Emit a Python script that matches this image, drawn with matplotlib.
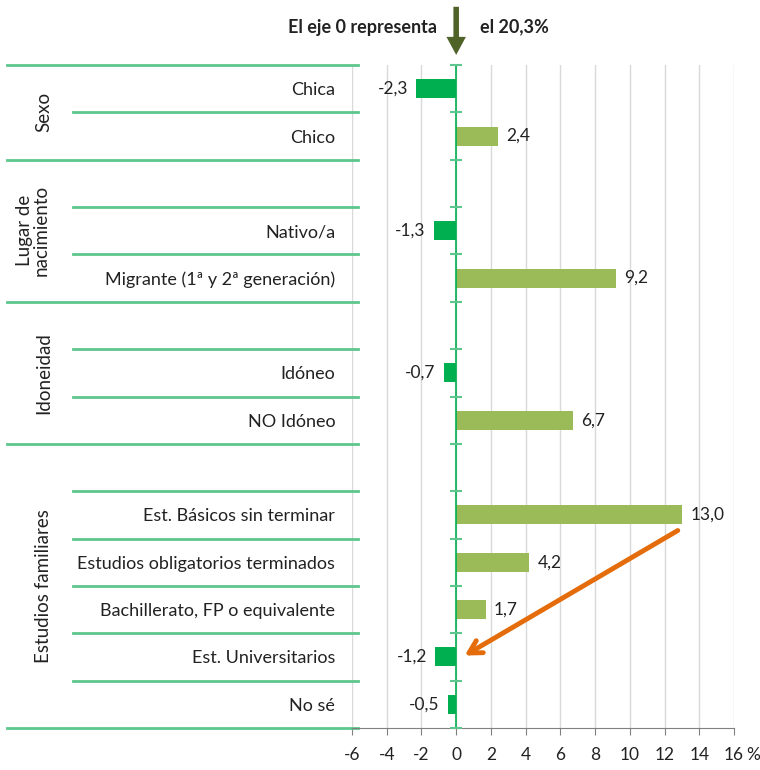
import matplotlib.pyplot as plt
import matplotlib.transforms as mtransforms

# data
groups = ["Sexo", "Lugar de\nnacimiento", "Idoneidad", "Estudios familiares"]
group_cats = [
    ["Chica", "Chico"],
    ["", "Nativo/a", "Migrante (1ª y 2ª generación)"],
    ["", "Idóneo", "NO Idóneo"],
    ["", "Est. Básicos sin terminar", "Estudios obligatorios terminados",
     "Bachillerato, FP o equivalente", "Est. Universitarios", "No sé"],
]
group_vals = [
    [-2.3, 2.4],
    [None, -1.3, 9.2],
    [None, -0.7, 6.7],
    [None, 13.0, 4.2, 1.7, -1.2, -0.5],
]
xticks = [-6, -4, -2, 0, 2, 4, 6, 8, 10, 12, 14, 16]

plt.rcParams['font.family'] = ['Lato', 'DejaVu Sans']

cats = [c for g in group_cats for c in g]
vals = [v for g in group_vals for v in g]
n = len(cats)

fig = plt.figure(figsize=(7.6, 7.7), dpi=100)
ax = fig.add_axes([352 / 760, 1 - 728 / 770, 382 / 760, 663 / 770])

line_green = '#5cc68c'
neg_col = '#00b050'
pos_col = '#9bbb59'
txt = '#222222'

ypos = list(range(n))
for y, v in zip(ypos, vals):
    if v is None:
        continue
    ax.barh(y, v, height=0.4, color=neg_col if v < 0 else pos_col, zorder=3)
    lab = f"{v:.1f}".replace('.', ',')
    if v < 0:
        ax.annotate(lab, (v, y), xytext=(-6, 0), textcoords='offset points',
                    ha='right', va='center', fontsize=12.5, color=txt)
    else:
        ax.annotate(lab, (v, y), xytext=(6, 0), textcoords='offset points',
                    ha='left', va='center', fontsize=12.5, color=txt)

ax.set_xlim(-6, 16)
ax.set_ylim(n - 0.5, -0.5)
ax.set_xticks(xticks)
ax.set_xticklabels([str(t) for t in xticks], fontsize=12.5, color=txt)
ax.grid(axis='x', color='#d9d9d9', lw=1, zorder=0)
ax.tick_params(axis='x', length=5, color='#808080', pad=9)
ax.set_yticks(ypos)
ax.set_yticklabels(cats, fontsize=13, color=txt)
ax.tick_params(axis='y', length=0, pad=12)
for s in ['top', 'right', 'left']:
    ax.spines[s].set_visible(False)
ax.spines['bottom'].set_color('#808080')
fig.text(746 / 760, 1 - 755 / 770, '%', ha='left', va='center',
         fontsize=12.5, color=txt)

# zero axis with category ticks
ax.axvline(0, color=neg_col, lw=1.2, zorder=4)
bounds = [i - 0.5 for i in range(n + 1)]
ax.plot([0] * len(bounds), bounds, ls='none', marker='_', markersize=9,
        color=line_green, mew=1.5, zorder=4, clip_on=False)

# multi-level category lines
tr = mtransforms.blended_transform_factory(fig.transFigure, ax.transData)
start = 0
for g, gc in zip(groups, group_cats):
    ax.plot([7 / 760, 358 / 760], [start - 0.5] * 2, color=line_green, lw=2,
            transform=tr, clip_on=False)
    for k in range(1, len(gc)):
        ax.plot([73 / 760, 358 / 760], [start + k - 0.5] * 2, color=line_green,
                lw=2, transform=tr, clip_on=False)
    mid = start + (len(gc) - 1) / 2
    xg = 33 / 760 if '\n' in g else 44 / 760
    ax.text(xg, mid, g, transform=tr, rotation=90, ha='center', va='center',
            fontsize=13.5, color=txt, linespacing=1.0, multialignment='center')
    start += len(gc)
ax.plot([7 / 760, 358 / 760], [n - 0.5] * 2, color=line_green, lw=2,
        transform=tr, clip_on=False)

# top note with arrow
ax.annotate('', xy=(0, 1.011), xycoords=('data', 'axes fraction'),
            xytext=(0, 1.092), textcoords=('data', 'axes fraction'),
            arrowprops=dict(arrowstyle='simple,head_length=1.3,head_width=1.4,tail_width=0.4',
                            color='#4f6228', lw=0))
fig.text(437 / 760, 1 - 27 / 770, 'El eje 0 representa',
         ha='right', va='center', fontsize=13, fontweight='bold', color=txt)
fig.text(480 / 760, 1 - 27 / 770, 'el 20,3%',
         ha='left', va='center', fontsize=13, fontweight='bold', color=txt)

# orange arrow
ax.annotate('', xy=(0.35, 12.0), xytext=(12.9, 9.3),
            arrowprops=dict(arrowstyle='->,head_length=0.9,head_width=0.5',
                            color='#e46c0a', lw=3.5), zorder=6)

fig.savefig('out.png', dpi=100)
